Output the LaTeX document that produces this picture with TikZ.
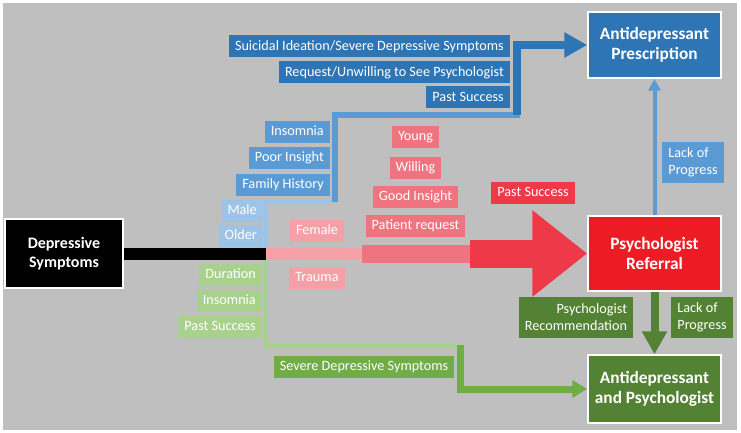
\documentclass[tikz,border=0pt]{standalone}
\usepackage{fontspec}
\setmainfont{Carlito}
\usetikzlibrary{arrows.meta}
\definecolor{bgray}{HTML}{BFBFBF}
\definecolor{dblue}{HTML}{2E75B6}
\definecolor{mblue}{HTML}{5B9BD5}
\definecolor{lblue}{HTML}{9DC3E6}
\definecolor{dgreen}{HTML}{548235}
\definecolor{mgreen}{HTML}{70AD47}
\definecolor{lgreen}{HTML}{A9D18E}
\definecolor{rbox}{HTML}{ED1C24}
\definecolor{rarrow}{HTML}{EE3A48}
\definecolor{mpink}{HTML}{F07480}
\definecolor{lpink}{HTML}{F4A0A6}

\begin{document}
\begin{tikzpicture}[x=1pt,y=-1pt,
box/.style={draw=white, line width=1.5pt, text=white, font=\bfseries\fontsize{17.3}{20}\selectfont, align=center, minimum width=133pt, inner sep=0pt},
lbl/.style={fill=#1, text=white, font=\fontsize{14.2}{16}\selectfont, inner xsep=6pt, inner ysep=0pt, minimum height=22pt, text height=10.5pt, text depth=3pt},
lbltwo/.style={fill=#1, text=white, font=\fontsize{14.2}{17}\selectfont, inner xsep=6pt, inner ysep=0pt, minimum height=41pt}
]
\fill[white] (0,0) rectangle (741,433);
\fill[bgray] (3,3) rectangle (737,430);

\node[box, fill=black, minimum width=118pt, minimum height=69pt, font=\bfseries\fontsize{16}{19}\selectfont] (dep) at (64,253.5) {Depressive\\Symptoms};
\node[box, fill=dblue, minimum height=66pt] (pres) at (654.5,45) {Antidepressant\\Prescription};
\node[box, fill=rbox, minimum height=75pt] (ref) at (654.5,253.5) {Psychologist\\Referral};
\node[box, fill=dgreen, minimum height=68pt] (both) at (654.5,389) {Antidepressant\\and Psychologist};

\coordinate (j) at (266,253.5);
\coordinate (b1) at (335,201.5);
\coordinate (b2) at (516.5,115);
\coordinate (g1) at (460.5,345);
\coordinate (r1) at (362,253.5);
\coordinate (r2) at (470,253.5);

\draw[lblue, line width=4pt] (j) |- (b1);
\draw[mblue, line width=6pt] (b1) |- ([xshift=3.5pt]b2);
\draw[dblue, line width=8pt, -{Triangle[width=24pt,length=23pt]}] (b2) |- (pres.west);
\draw[lgreen, line width=4pt] (j) |- (g1);
\draw[mgreen, line width=7pt, -{Triangle[width=17pt,length=15pt]}] (g1) |- (both.west);
\draw[lpink, line width=12pt] (j) -- (r1);
\draw[mpink, line width=18pt] (r1) -- (r2);
\draw[rarrow, line width=28pt, -{Triangle[width=83pt,length=55pt]}] (r2) -- (ref.west);
\draw[black, line width=12pt] (dep.east) -- (j);
\draw[mblue, line width=4pt, -{Triangle[width=12pt,length=12pt]}] (ref.north) -- (pres.south);
\draw[dgreen, line width=8pt, -{Triangle[width=24pt,length=23pt]}] (ref.south) -- (both.north);

\foreach \y/\t [count=\i] in {46.5/{Suicidal Ideation/Severe Depressive Symptoms},72.5/{Request/Unwilling to See Psychologist},97.5/Past Success}
  \node[lbl=dblue, anchor=east] (db\i) at (510,\y) {\t};
\foreach \y/\t [count=\i] in {132/Insomnia,158/Poor Insight,184.5/Family History}
  \node[lbl=mblue, anchor=east] (mb\i) at (330,\y) {\t};
\foreach \y/\t [count=\i] in {211/Male,235.5/Older}
  \node[lbl=lblue, anchor=east] (lb\i) at (263,\y) {\t};
\foreach \y/\t [count=\i] in {275/Duration,300.5/Insomnia,327/Past Success}
  \node[lbl=lgreen, anchor=east] (lg\i) at (262,\y) {\t};
\foreach \y/\t [count=\i] in {137/Young,167.5/Willing,197/Good Insight,225.5/Patient request}
  \node[lbl=mpink] (mp\i) at (415.5,\y) {\t};
\foreach \y/\t [count=\i] in {230.5/Female,278/Trauma}
  \node[lbl=lpink] (lp\i) at (317,\y) {\t};
\node[lbl=rarrow] (rp) at (533,193) {Past Success};
\node[lbl=mgreen] (mg) at (364,367) {Severe Depressive Symptoms};
\node[lbltwo=mblue, align=left] (lop1) at (693,162.5) {Lack of\\Progress};
\node[lbltwo=dgreen, align=right] (prec) at (576,317.5) {Psychologist\\Recommendation};
\node[lbltwo=dgreen, align=left] (lop2) at (702,317.5) {Lack of\\Progress};
\end{tikzpicture}
\end{document}
